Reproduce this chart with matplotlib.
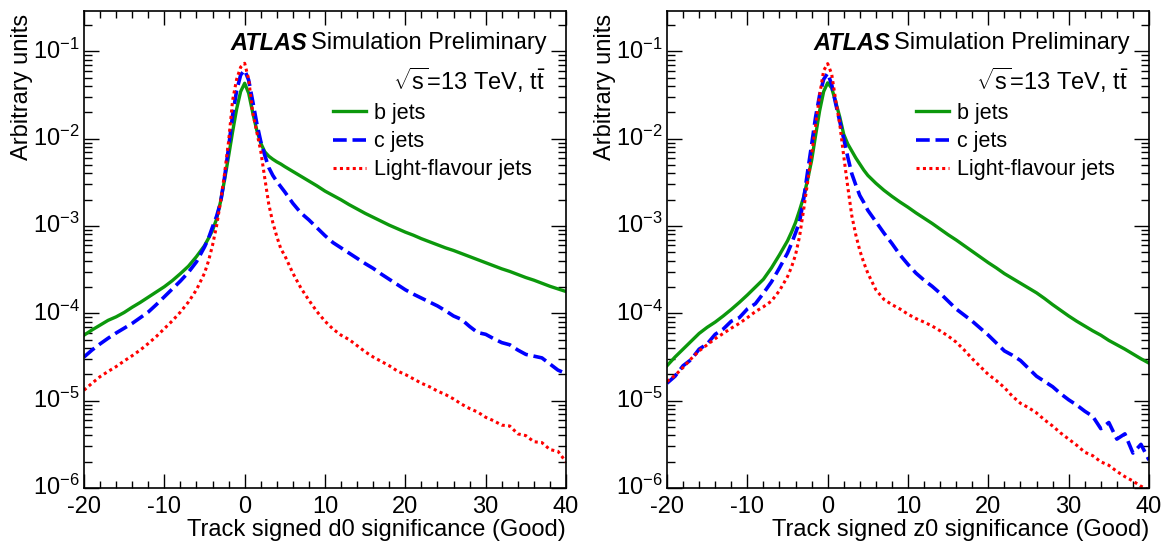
import numpy as np
import matplotlib
matplotlib.use("Agg")
import matplotlib.pyplot as plt
import matplotlib.transforms as mtransforms
from matplotlib.ticker import LogLocator, MultipleLocator, NullFormatter

plt.rcParams['font.family'] = ['Liberation Sans', 'DejaVu Sans']
plt.rcParams['mathtext.fontset'] = 'custom'
plt.rcParams['mathtext.rm'] = 'Liberation Sans'
plt.rcParams['mathtext.it'] = 'Liberation Sans:italic'
plt.rcParams['mathtext.bf'] = 'Liberation Sans:bold'
plt.rcParams['axes.unicode_minus'] = False

# ---------------- data (log10 of arbitrary units) ----------------
x_sig = [-20, -19, -18, -17, -16, -15, -14, -13, -12, -11, -10, -9, -8, -7, -6, -5,
         -4.5, -4, -3.5, -3, -2.5, -2, -1.5, -1, -0.5, 0, 0.5, 1, 1.5, 2, 2.5, 3, 3.5, 4, 4.5,
         5, 6, 7, 8, 9, 10, 11, 12, 13, 14, 15, 16, 17, 18, 19, 20, 21, 22, 23, 24, 25,
         26, 27, 28, 29, 30, 31, 32, 33, 34, 35, 36, 37, 38, 39, 40]

# d0 significance
d0_b_log = [-4.25, -4.19, -4.135, -4.08, -4.04, -3.99, -3.93, -3.875, -3.815, -3.755, -3.695, -3.625, -3.545, -3.46, -3.35, -3.225,
            -3.14, -3.05, -2.92, -2.72, -2.47, -2.2, -1.92, -1.66, -1.46, -1.365, -1.48, -1.70, -1.90, -2.05, -2.15, -2.2, -2.235, -2.265, -2.29,
            -2.32, -2.375, -2.43, -2.485, -2.54, -2.60, -2.65, -2.70, -2.755, -2.805, -2.855, -2.90, -2.945, -2.99, -3.03, -3.07, -3.105, -3.145, -3.18, -3.215, -3.25,
            -3.28, -3.315, -3.35, -3.385, -3.42, -3.455, -3.49, -3.52, -3.555, -3.59, -3.62, -3.655, -3.69, -3.72, -3.75]
d0_c_log = [-4.50, -4.42, -4.35, -4.285, -4.225, -4.17, -4.115, -4.05, -3.985, -3.90, -3.81, -3.72, -3.63, -3.53, -3.41, -3.24,
            -3.14, -3.01, -2.89, -2.73, -2.44, -2.1, -1.73, -1.45, -1.27, -1.215, -1.33, -1.57, -1.82, -2.03, -2.19, -2.33, -2.42, -2.49, -2.55,
            -2.61, -2.74, -2.85, -2.93, -3.02, -3.11, -3.19, -3.25, -3.31, -3.37, -3.43, -3.485, -3.55, -3.61, -3.67, -3.73, -3.78, -3.825, -3.87, -3.915, -3.97,
            -4.03, -4.07, -4.15, -4.22, -4.24, -4.29, -4.335, -4.36, -4.42, -4.47, -4.49, -4.51, -4.58, -4.65, -4.69]
d0_l_log = [-4.88, -4.80, -4.725, -4.665, -4.61, -4.545, -4.485, -4.42, -4.345, -4.265, -4.175, -4.085, -3.985, -3.87, -3.73, -3.54,
            -3.40, -3.22, -3.0, -2.72, -2.40, -2.03, -1.56, -1.32, -1.18, -1.136, -1.32, -1.70, -1.92, -2.14, -2.45, -2.75, -2.96, -3.12, -3.26,
            -3.34, -3.54, -3.71, -3.85, -3.98, -4.09, -4.18, -4.25, -4.30, -4.37, -4.44, -4.50, -4.55, -4.60, -4.66, -4.70, -4.75, -4.80, -4.84, -4.89, -4.93,
            -4.98, -5.04, -5.09, -5.13, -5.19, -5.23, -5.28, -5.29, -5.38, -5.40, -5.47, -5.48, -5.56, -5.58, -5.70]

# z0 significance
z0_b_log = [-4.60, -4.50, -4.41, -4.32, -4.23, -4.16, -4.10, -4.03, -3.955, -3.875, -3.79, -3.70, -3.61, -3.48, -3.33, -3.17,
            -3.07, -2.96, -2.82, -2.67, -2.47, -2.25, -1.96, -1.68, -1.46, -1.36, -1.42, -1.58, -1.75, -1.95, -2.06, -2.14, -2.22, -2.29, -2.36,
            -2.42, -2.51, -2.59, -2.66, -2.725, -2.785, -2.85, -2.91, -2.97, -3.035, -3.10, -3.16, -3.225, -3.29, -3.355, -3.42, -3.48, -3.545, -3.60, -3.655, -3.71,
            -3.765, -3.83, -3.90, -3.965, -4.03, -4.09, -4.145, -4.20, -4.25, -4.31, -4.36, -4.41, -4.465, -4.52, -4.57]
z0_c_log = [-4.80, -4.72, -4.60, -4.53, -4.41, -4.35, -4.24, -4.18, -4.09, -4.05, -3.95, -3.89, -3.77, -3.64, -3.48, -3.31,
            -3.20, -3.08, -2.95, -2.70, -2.38, -2.07, -1.75, -1.50, -1.32, -1.25, -1.38, -1.60, -1.80, -2.0, -2.21, -2.40, -2.53, -2.65, -2.73,
            -2.82, -2.95, -3.08, -3.20, -3.33, -3.44, -3.54, -3.62, -3.69, -3.77, -3.86, -3.95, -4.02, -4.09, -4.17, -4.25, -4.34, -4.43, -4.48, -4.54, -4.63,
            -4.72, -4.78, -4.84, -4.92, -4.99, -5.05, -5.12, -5.18, -5.32, -5.25, -5.44, -5.38, -5.60, -5.50, -5.68]
z0_l_log = [-4.78, -4.71, -4.62, -4.52, -4.43, -4.36, -4.29, -4.23, -4.17, -4.115, -4.05, -3.98, -3.925, -3.86, -3.74, -3.58,
            -3.47, -3.33, -3.12, -2.82, -2.50, -2.18, -1.85, -1.50, -1.22, -1.14, -1.26, -1.56, -1.83, -2.20, -2.55, -2.88, -3.10, -3.28, -3.42,
            -3.54, -3.73, -3.84, -3.90, -3.95, -4.01, -4.06, -4.10, -4.145, -4.20, -4.26, -4.33, -4.42, -4.52, -4.61, -4.70, -4.77, -4.85, -4.95, -5.03, -5.08,
            -5.14, -5.22, -5.29, -5.37, -5.44, -5.51, -5.59, -5.63, -5.70, -5.74, -5.81, -5.87, -5.92, -5.98, -6.02]

series_labels = ["b jets", "c jets", "Light-flavour jets"]
x_titles = ["Track signed d0 significance (Good)", "Track signed z0 significance (Good)"]
y_title = "Arbitrary units"

GREEN = "#0c980c"
BLUE = "#0000ff"
RED = "#ff0000"

W, H = 1165, 543
fig = plt.figure(figsize=(W / 100, H / 100), dpi=100)

def px(x, y):
    return x / W, 1 - y / H

panels = [
    dict(left=84, right=566, data=(d0_b_log, d0_c_log, d0_l_log), xt=x_titles[0], ylab_x=22),
    dict(left=667, right=1149, data=(z0_b_log, z0_c_log, z0_l_log), xt=x_titles[1], ylab_x=605),
]
top, bottom = 11, 488
FS = 17
for p in panels:
    ax = fig.add_axes([p['left'] / W, 1 - bottom / H, (p['right'] - p['left']) / W, (bottom - top) / H])
    xs = np.array(x_sig)
    b, c, l = p['data']
    lb, = ax.plot(xs, 10 ** np.array(b), color=GREEN, lw=2.4, solid_joinstyle='round')
    lc, = ax.plot(xs, 10 ** np.array(c), color=BLUE, lw=2.6, dashes=(3.8, 1.6))
    ll, = ax.plot(xs, 10 ** np.array(l), color=RED, lw=2.2, dashes=(1.0, 1.1))
    ax.set_yscale('log')
    ax.set_xlim(-20, 40)
    ax.set_ylim(1e-6, 0.29)
    ax.xaxis.set_major_locator(MultipleLocator(10))
    ax.xaxis.set_minor_locator(MultipleLocator(2))
    ax.yaxis.set_major_locator(LogLocator(base=10, numticks=20))
    ax.yaxis.set_minor_locator(LogLocator(base=10, subs=np.arange(2, 10), numticks=20))
    ax.yaxis.set_minor_formatter(NullFormatter())
    ax.tick_params(which='both', direction='in', top=True, right=True, width=1.0, labelsize=FS)
    ax.tick_params(axis='y', which='major', length=11, pad=3)
    ax.tick_params(axis='y', which='minor', length=6)
    ax.tick_params(axis='x', which='major', length=10, pad=6)
    ax.tick_params(axis='x', which='minor', length=5)
    for s in ax.spines.values():
        s.set_linewidth(1.2)
    # lift the y tick labels a touch so the lowest one clears the x labels
    lift = mtransforms.ScaledTranslation(0, 2 / 72, fig.dpi_scale_trans)
    for lab in ax.get_yticklabels():
        lab.set_transform(lab.get_transform() + lift)
    # legend
    leg = ax.legend([lb, lc, ll], series_labels, loc='upper left',
                    bbox_to_anchor=(249 / (p['right'] - p['left']), (bottom - 103) / (bottom - top)),
                    frameon=False, fontsize=15.5, handlelength=1.55, handletextpad=0.35,
                    labelspacing=0.33, borderpad=0, borderaxespad=0)
    # texts
    off = p['left'] - 84
    fig.text(*px(230 + off, 43), "ATLAS", fontsize=FS, fontweight='bold', fontstyle='italic', ha='left', va='center')
    fig.text(*px(547 + off, 43), "Simulation Preliminary", fontsize=FS, ha='right', va='center')
    fig.text(*px(545 + off, 80), r"$\sqrt{\mathrm{s}}$=13 TeV, $\mathrm{t\bar{t}}$", fontsize=FS, ha='right', va='center')
    fig.text(*px(p['right'], 530), p['xt'], fontsize=FS, ha='right', va='center')
    fig.text(*px(p['ylab_x'], 14), y_title, fontsize=FS, rotation=90, ha='center', va='top')

fig.savefig("out.png", dpi=100)
